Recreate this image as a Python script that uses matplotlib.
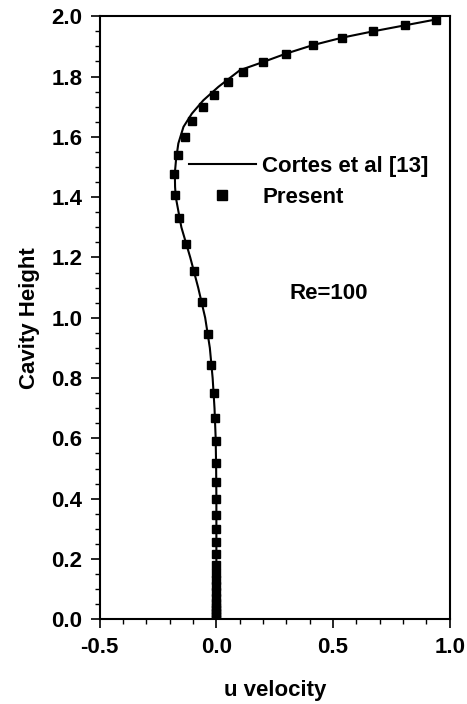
"""
u-velocity profile along the cavity height, Re=100.
"""

import matplotlib
matplotlib.use("Agg")
import matplotlib.pyplot as plt
from matplotlib.ticker import MultipleLocator

plt.rcParams["font.family"] = ["Liberation Sans", "DejaVu Sans"]
plt.rcParams["font.weight"] = "bold"

# Cortes et al [13] (solid line)
cortes_y = [0.0, 0.2, 0.4, 0.5, 0.6, 0.7, 0.8, 0.9, 1.0, 1.1, 1.2, 1.3,
            1.4, 1.434, 1.48, 1.523, 1.578, 1.633, 1.677, 1.721, 1.766,
            1.821, 1.848, 1.876, 1.904, 1.929, 1.95, 1.97, 1.989]
cortes_u = [0.0, 0.0, 0.0, -0.001, -0.003, -0.008, -0.016, -0.028, -0.048,
            -0.078, -0.112, -0.150, -0.174, -0.177, -0.178, -0.173, -0.163,
            -0.141, -0.105, -0.056, 0.009, 0.101, 0.200, 0.299, 0.413,
            0.540, 0.673, 0.810, 0.940]

# Present results (square markers)
present_y = [0.0, 0.01, 0.02, 0.03, 0.04, 0.055, 0.07, 0.09, 0.11, 0.13,
             0.155, 0.180, 0.216, 0.257, 0.299, 0.347, 0.400, 0.456, 0.519,
             0.590, 0.666, 0.749, 0.843, 0.945, 1.051, 1.155, 1.246, 1.330,
             1.406, 1.476, 1.540, 1.598, 1.651, 1.698, 1.740, 1.781, 1.816,
             1.848, 1.876, 1.904, 1.929, 1.950, 1.970, 1.989]
present_u = [0.0, 0.0, 0.0, 0.0, 0.0, 0.0, 0.0, 0.0, 0.0, 0.0,
             0.0, 0.0, 0.0, 0.0, 0.0, 0.0, 0.0, 0.0, -0.001,
             -0.003, -0.006, -0.011, -0.021, -0.037, -0.063, -0.096, -0.131,
             -0.161, -0.177, -0.180, -0.164, -0.135, -0.103, -0.058, -0.010,
             0.049, 0.114, 0.200, 0.299, 0.413, 0.540, 0.673, 0.810, 0.940]

fig = plt.figure(figsize=(4.67, 7.04), dpi=100)
ax = fig.add_axes([0.2135, 0.1203, 0.7495, 0.8567])

ax.plot(cortes_u, cortes_y, color="black", lw=1.5, label="Cortes et al [13]")
ax.plot(present_u, present_y, ls="none", marker="s", ms=6, color="black",
        label="Present")

ax.set_xlim(-0.5, 1.0)
ax.set_ylim(0.0, 2.0)
ax.xaxis.set_major_locator(MultipleLocator(0.5))
ax.xaxis.set_minor_locator(MultipleLocator(0.1))
ax.yaxis.set_major_locator(MultipleLocator(0.2))
ax.yaxis.set_minor_locator(MultipleLocator(0.05))
ax.xaxis.set_major_formatter(lambda v, p: f"{v:.1f}")
ax.yaxis.set_major_formatter(lambda v, p: f"{v:.1f}")

ax.tick_params(which="major", direction="out", length=6.5, width=1.2,
               labelsize=16, pad=6)
ax.tick_params(which="minor", direction="out", length=3.5, width=1.0)
for sp in ax.spines.values():
    sp.set_linewidth(1.5)

ax.set_xlabel("u velocity", fontsize=16, fontweight="bold", labelpad=16)
ax.set_ylabel("Cavity Height", fontsize=16, fontweight="bold", labelpad=8)

ax.legend(loc="upper left", bbox_to_anchor=(0.255, 0.768), frameon=False,
          fontsize=16, handlelength=3.0, handletextpad=0.3, labelspacing=0.45,
          borderpad=0, borderaxespad=0, markerscale=1.25)

ax.text(0.483, 1.08, "Re=100", fontsize=16, fontweight="bold",
        ha="center", va="center")

fig.savefig("out.png", dpi=100)
